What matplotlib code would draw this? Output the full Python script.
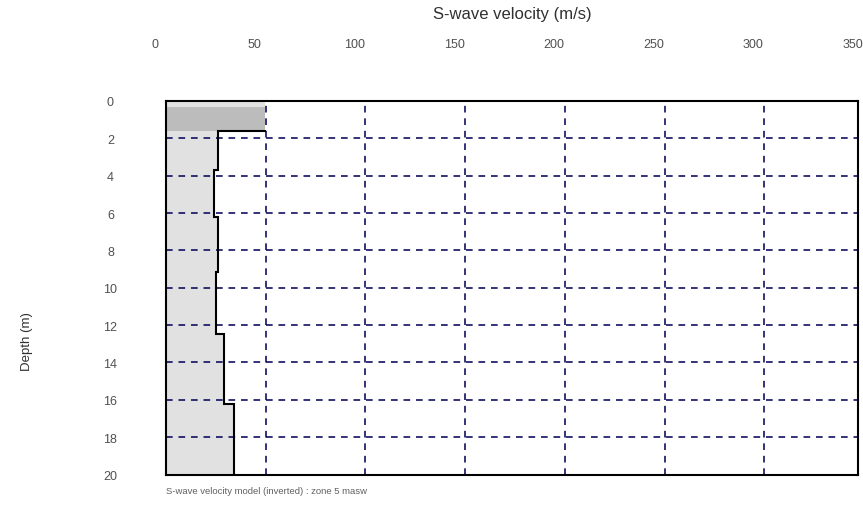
import matplotlib
matplotlib.use("Agg")
import matplotlib.pyplot as plt

# ---- data ----
layer_tops = [0.0, 1.63, 3.72, 6.23, 9.17, 12.5, 16.2]   # depth of layer tops (m)
vs_values = [49.5, 25.9, 24.0, 25.9, 24.9, 29.2, 34.2]    # S-wave velocity (m/s)
max_depth = 20.0
highlight_top = 0.3
xtick_values = [0, 50, 100, 150, 200, 250, 300, 350]
ytick_values = [0, 2, 4, 6, 8, 10, 12, 14, 16, 18, 20]
title_text = "S-wave velocity (m/s)"
ylabel_text = "Depth (m)"
caption_text = "S-wave velocity model (inverted) : zone 5 masw"

plt.rcParams['font.family'] = ['Liberation Sans', 'DejaVu Sans']

fig = plt.figure(figsize=(8.63, 5.06), dpi=100)
ax = fig.add_axes([166/863, 1-475.5/506, (858-166)/863, (475.5-102)/506])

# fill of the profile
ydep = layer_tops + [max_depth]
xv = vs_values + [vs_values[-1]]
ax.fill_betweenx(ydep, 0, xv, step='post', color='#e1e1e1', lw=0, zorder=1)
# highlighted first layer
ax.fill_betweenx([highlight_top, layer_tops[1]], 0, vs_values[0], color='#bcbcbc', lw=0, zorder=1.5)

# grid
ax.set_xlim(0, 347)
ax.set_ylim(max_depth, 0)
for v in xtick_values[1:]:
    if v < 347:
        ax.axvline(v, color='#101060', lw=1.2, ls=(0, (4, 3.5)), zorder=2)
for d in ytick_values[1:-1]:
    ax.axhline(d, color='#101060', lw=1.2, ls=(0, (4, 3.5)), zorder=2)

# step profile line
px = [vs_values[0]]
py = [layer_tops[1]]
for i in range(1, len(vs_values)):
    top = layer_tops[i]
    bot = layer_tops[i+1] if i+1 < len(layer_tops) else max_depth
    px += [vs_values[i], vs_values[i]]
    py += [top, bot]
ax.plot(px, py, color='black', lw=1.5, zorder=3, solid_joinstyle='miter')

for s in ax.spines.values():
    s.set_linewidth(1.5)
    s.set_color('black')
    s.set_zorder(4)

ax.set_xticks([])
ax.set_yticks(ytick_values)
ax.set_yticklabels([str(v) for v in ytick_values])
ax.tick_params(axis='y', length=0, pad=40, labelsize=9, labelcolor='#505050')
for lab in ax.get_yticklabels():
    lab.set_horizontalalignment('center')
    lab.set_verticalalignment('center_baseline')

for v in xtick_values:
    ax.annotate(str(v), xy=(v, 1), xycoords=('data', 'axes fraction'),
                xytext=(-11, 57), textcoords='offset pixels', ha='center', va='center',
                fontsize=9, color='#505050', annotation_clip=False)

ax.text(0.5, 1 + 88/373.5, title_text, transform=ax.transAxes, ha='center', va='center',
        fontsize=12, color='#303030')
ax.text(-139/692, 0.359, ylabel_text, transform=ax.transAxes, rotation=90,
        ha='center', va='center', fontsize=9.5, color='#303030')
ax.text(0.0, -16/373.5, caption_text, transform=ax.transAxes, ha='left', va='center',
        fontsize=6.8, color='#606060')

fig.savefig("out.png", dpi=100, facecolor='white')
